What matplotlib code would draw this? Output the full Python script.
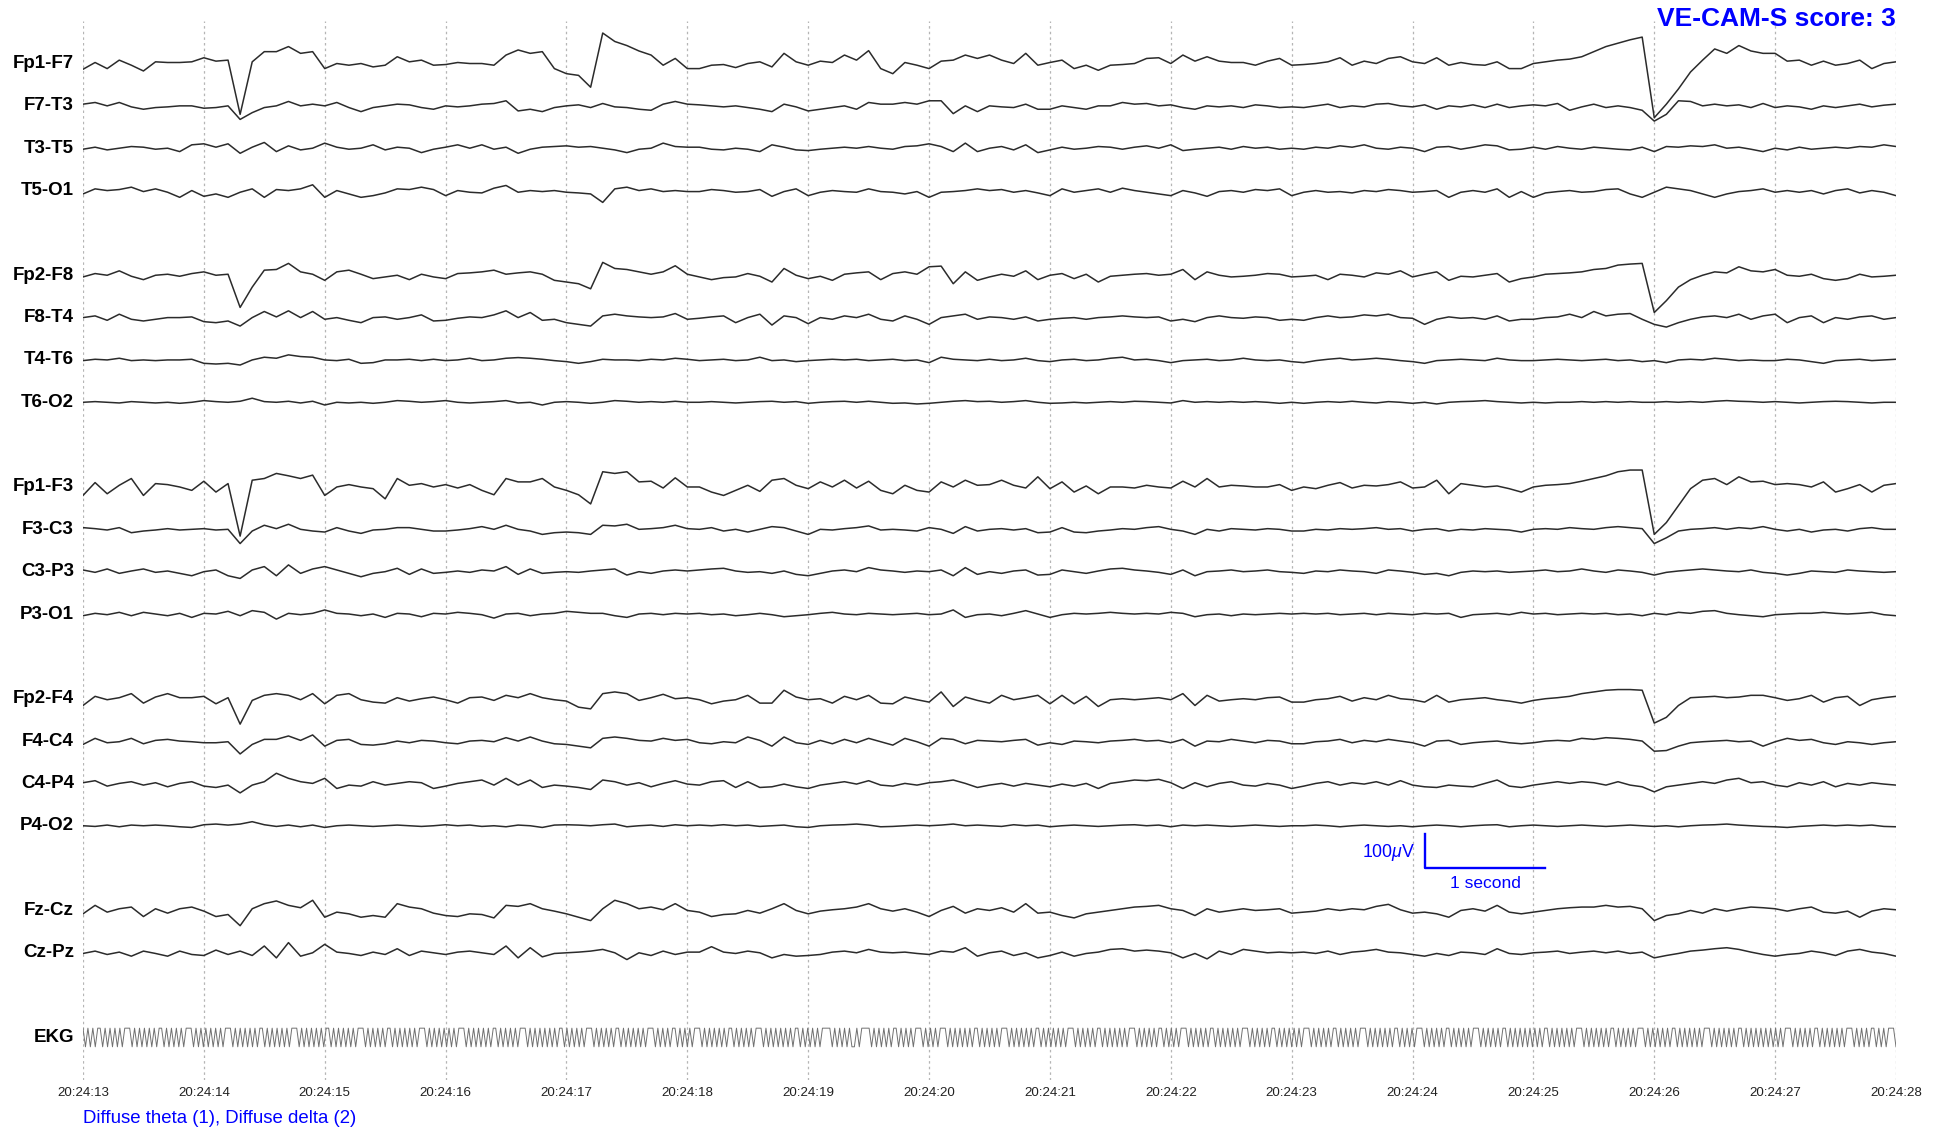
import numpy as np
import matplotlib
matplotlib.use('Agg')
import matplotlib.pyplot as plt

plt.rcParams['font.family'] = ['Liberation Sans', 'DejaVu Sans']
plt.rcParams['mathtext.fontset'] = 'custom'
plt.rcParams['mathtext.rm'] = 'Liberation Sans'
plt.rcParams['mathtext.it'] = 'Liberation Sans:italic'

# one sample every 0.1 s, values in microvolts
DT = 0.1
tick_labels = ['20:24:%02d' % s for s in range(13, 29)]

fp1_f7 = [-17, 3, -15, 10, -5, -22, 5, 3, 3, 5,
          17, 7, 10, -150, 5, 35, 35, 50, 30, 35,
          -15, 0, -5, 0, -10, -5, 20, 5, 10, -5,
          -3, 3, 0, 0, -5, 25, 40, 30, 35, -15,
          -30, -35, -70, 90, 65, 53, 37, 25, -5, 15,
          -15, -15, -5, -3, -12, 0, 5, -10, 30, 5,
          -5, 7, 3, 25, 10, 38, -15, -30, 3, -5,
          -15, 7, 10, 25, 15, 25, 10, 0, 30, -5,
          3, 10, -15, -5, -20, -5, -3, 0, 15, 17,
          0, 25, 7, 20, 7, 3, 3, -5, 7, 15,
          -5, -3, 0, 5, 17, -5, 7, 0, 15, 20,
          5, 0, 17, -5, 3, -3, -5, 5, -15, -15,
          0, 5, 10, 13, 20, 35, 50, 60, 70, 78,
          -160, -120, -75, -25, 10, 43, 30, 53, 37, 30,
          30, 7, 10, -5, 7, -5, 0, 10, -15, 0,
          5]
f7_t3 = [5, 10, 0, 10, -3, -10, -5, -3, 0, 0,
         -7, -5, 0, -40, -20, -5, 0, 13, 0, 5,
         0, 10, -5, -17, -5, 0, 5, 3, -5, -10,
         0, -3, 0, 5, 7, 15, -15, -10, -17, -5,
         0, 3, -5, 7, -3, -5, -10, -13, 5, 13,
         5, 3, 0, -3, 0, -5, -10, -17, 5, -3,
         -15, -10, -5, 0, -10, 10, 5, 5, 10, 5,
         15, 15, -23, 0, -17, 0, -3, -5, 5, -10,
         -10, 0, -5, -10, 0, 0, 10, 5, 7, 0,
         3, -5, -10, 0, -3, 0, -5, 3, 0, -5,
         -3, -5, 0, 5, -5, 0, -3, 5, 7, 0,
         -3, 3, -10, 0, -3, 3, -5, 5, -5, 0,
         3, 0, 7, -13, -3, 5, -5, 0, -5, -13,
         -45, -25, 15, 13, 0, 5, 0, 3, -5, 7,
         -5, 0, -3, -10, 0, -5, 0, 5, -3, 2,
         5]
t3_t5 = [-3, 3, -5, 0, 5, 3, -3, 0, -10, 10,
         13, 3, 13, -15, 3, 17, -10, 7, -5, 0,
         15, 3, -3, 0, 10, -5, 3, 0, -13, -3,
         3, 10, 0, 10, -3, 3, -15, -3, 3, 5,
         7, 3, 5, 0, -5, -13, -3, 0, 15, 5,
         3, 3, -3, -5, 0, -3, -10, 10, 3, -5,
         -7, -3, 0, 3, 0, 5, 0, -3, 5, 7,
         13, 5, -10, 15, -10, 0, 5, -5, 10, -13,
         -5, 3, -3, 0, 5, 3, -3, 3, 7, 0,
         10, -7, -3, 0, 3, -3, 5, 0, 3, -3,
         0, -3, 3, 0, 7, 3, 10, 0, -3, 3,
         0, -10, 3, 5, -3, 3, 10, 7, -5, -3,
         3, -3, 5, 0, -3, 3, 0, -3, -5, 3,
         -10, 5, 3, 7, 5, 10, 0, 3, -3, -10,
         0, -5, 3, -3, 0, 3, 0, 5, 3, 10,
         5]
t5_o1 = [-10, 5, 0, 3, 10, -3, 5, -5, -20, 0,
         -17, -10, -20, -5, 5, -20, 3, 0, 5, 17,
         -20, 0, -10, -20, -15, -7, 5, 3, 10, 3,
         -15, 0, -5, -7, 7, 15, -5, 0, -3, 0,
         -5, -7, -10, -35, 5, 10, 0, 5, -3, 0,
         -3, -3, 3, 0, -5, -3, 3, -17, -3, 5,
         -15, -5, 0, -3, -5, 5, -3, -5, -10, -3,
         -20, -5, -3, 0, 5, 0, 3, -5, 0, -7,
         -15, 5, -5, 0, 5, -5, 7, 0, -5, -10,
         -15, 0, -7, -17, -3, 0, -5, 3, 0, 5,
         -15, -5, 0, -5, -3, -7, 0, -3, 3, 0,
         -5, -3, 0, -20, -5, 0, -5, 5, -20, -3,
         -20, -7, -3, 0, -5, -3, 3, 5, -10, -20,
         -5, 10, 5, 0, -10, -20, -10, -3, 0, 5,
         -5, 0, -5, 0, -10, 0, 5, -7, 0, -5,
         -15]
fp2_f8 = [-5, 5, 0, 13, -3, -13, 0, 3, -3, 5,
          10, 0, 3, -95, -35, 15, 17, 35, 10, 3,
          -15, 10, 15, 3, -10, -5, 0, -13, 3, -5,
          -10, 5, 7, 10, 15, 3, 7, 10, 3, -15,
          -20, -25, -40, 38, 20, 17, 10, 3, 10, 28,
          3, -5, -13, -7, -5, 5, -3, -20, 20, 0,
          -10, -3, -15, 3, 7, 10, -13, 5, 10, 3,
          25, 27, -25, 10, -15, -5, 3, -3, 13, -13,
          0, 5, -10, 3, -20, -3, 0, 3, 5, 0,
          3, 17, -13, 10, 0, -5, -3, 0, 5, 3,
          -5, -3, 0, -13, 3, 0, -5, 7, 3, 13,
          -5, 3, 10, -15, -3, -5, 0, 5, -20, -10,
          -5, 3, 5, 7, 10, 17, 20, 30, 33, 35,
          -110, -75, -35, -13, 0, 10, 7, 25, 13, 10,
          17, 0, -3, 3, -10, -15, -10, 3, -5, -3,
          0]
f8_t4 = [0, 5, -8, 10, -5, -10, -5, 0, 0, 2,
         -12, -15, -10, -25, 0, 18, 2, 20, 0, 18,
         -5, 0, -8, -15, 0, 2, -5, 0, 8, -10,
         -8, -2, 2, 0, 8, 20, 0, 15, -8, -5,
         -15, -20, -25, 5, 10, 5, 2, 0, 2, 12,
         -5, -2, 2, 5, -15, 0, 10, -22, 5, 0,
         -18, 0, -5, 5, 0, 10, -5, -10, 5, -5,
         -20, 0, 5, 10, -5, 2, 0, -5, 2, -10,
         -5, -2, 0, -5, 0, 2, 5, 2, 0, 2,
         -10, -5, -12, 0, 5, 0, -2, 2, 0, -8,
         -5, -8, 0, 5, 0, 2, 8, 5, 10, 0,
         -2, -20, -5, 2, -2, 0, -5, 5, -10, -5,
         -5, 0, 2, 10, 0, 18, 5, 10, 12, -5,
         -20, -28, -15, -5, 2, 5, 0, 10, -5, 5,
         10, -15, 0, 5, -15, 0, -5, 2, 5, -5,
         0]
t4_t6 = [-2, 2, 0, 5, -2, 0, -2, 0, 0, 2,
         -10, -12, -10, -15, 0, 8, 5, 15, 10, 8,
         0, -2, 2, -10, -8, 0, 0, 2, -2, 2,
         -2, 0, 5, -2, 0, 5, 7, 5, 2, -2,
         -5, -10, -5, 2, 0, 0, -2, 2, 0, 5,
         2, -2, 0, 2, -2, 0, 8, -2, 0, -5,
         -2, 0, 2, 0, 2, -2, 0, 2, -2, 0,
         -8, 8, 2, 0, -2, 2, -2, 0, 5, -2,
         -5, 0, 2, -2, 0, 5, 8, 0, 2, -2,
         -8, -2, 0, 2, -2, 0, 5, 0, -2, 0,
         -5, -8, -2, 2, 5, 0, 2, 5, 2, -2,
         -5, -10, -2, 0, 2, 0, -2, 5, 0, -2,
         -2, 0, 2, 0, -2, 0, 2, -2, 0, -5,
         -2, -8, 0, 2, 0, 5, 2, -2, 0, -2,
         -2, 2, 0, -5, -10, -2, 0, 2, -2, 0,
         2]
t6_o2 = [0, 2, 0, -2, 2, 0, -2, 0, -3, 0,
         5, 2, 0, 3, 12, 2, 0, 3, -2, 3,
         -8, 0, -2, 0, -3, 0, 5, 3, 0, 2,
         5, 0, -2, 0, 2, 5, -2, 0, -8, 0,
         2, 0, -3, 0, 5, 3, 0, 2, 0, 3,
         0, 0, 2, 0, -2, 0, 2, 3, 0, 2,
         -3, 0, 2, 3, 0, 3, 0, -3, -2, -5,
         -3, 0, 3, 5, 2, 3, 0, 2, 5, 0,
         -3, -2, 0, -2, 0, 2, 0, 3, 2, 0,
         -2, 5, 0, 2, 0, 2, 0, 2, 0, -3,
         0, -3, 0, 2, 0, 3, 0, -2, 2, 0,
         -3, 0, -5, 0, 2, 3, 5, 2, 0, -2,
         0, -2, 0, 0, 2, 0, 2, 0, 2, 0,
         0, 2, 0, 2, 0, 3, 5, 3, 2, 0,
         2, 0, -2, 0, 2, 3, 2, 0, -2, 0,
         0]
fp1_f3 = [-25, 13, -20, 5, 25, -25, 10, 7, 0, -10,
          17, -15, 10, -145, 20, 25, 40, 33, 25, 35,
          -25, 0, 7, 0, -5, -35, 25, 5, 10, 0,
          7, -3, 7, -10, -23, 25, 15, 15, 25, 0,
          -10, -23, -50, 45, 40, 45, 15, 17, -3, 27,
          0, 0, -15, -25, -10, 5, -13, 20, 25, 5,
          -5, 15, 0, 20, -3, 17, -10, -20, 5, -10,
          -15, 15, 0, 20, 5, 7, 20, 5, -3, 30,
          -5, 15, -15, 3, -20, 0, 0, -3, 5, 0,
          -3, 17, 0, 25, 0, 5, 3, 0, 0, 7,
          -10, 0, -5, 5, 13, -3, 5, 3, 7, 15,
          -3, 0, 20, -20, 10, 5, 0, 3, -5, -15,
          0, 5, 7, 10, 17, 25, 33, 45, 50, 50,
          -140, -105, -55, -5, 20, 25, 7, 30, 15, 17,
          7, 10, 7, 0, 15, -15, -5, 7, -15, 5,
          10]
f3_c3 = [5, 2, -2, 5, -10, -5, -2, 2, -2, 0,
         2, -2, 0, -42, -5, 12, 2, 15, 0, -5,
         -8, 5, -5, -12, -2, 0, 5, 5, 0, -5,
         -5, -2, 2, 8, 0, 12, 0, -5, -15, -10,
         -8, -10, -15, 12, 10, 15, 0, 2, 5, 12,
         2, 0, 5, -5, 0, -8, 0, 8, 5, -5,
         -15, 0, -2, 2, 5, 10, -2, 0, -2, -5,
         5, 0, -12, 8, -5, 0, 2, -2, 2, -10,
         -8, 5, -8, -10, -5, -2, 2, 0, 5, 8,
         0, -5, -15, 0, -5, 2, 0, -2, 2, 0,
         -5, -5, 0, -2, 2, 0, 2, 5, 0, 2,
         -5, 0, 2, -5, 0, -2, 2, 0, -2, -8,
         0, 2, 0, 5, 2, 0, 5, 8, 5, 2,
         -42, -25, -5, 0, 2, 5, 0, 5, 2, 8,
         0, -5, 0, -8, -2, 0, -5, 2, 5, 0,
         0]
c3_p3 = [5, -2, 8, -5, 2, 8, -2, 2, -5, -12,
         0, 5, -12, -20, 5, 15, -12, 20, -5, 8,
         15, 5, -5, -15, -5, 0, 10, -8, 8, -5,
         -2, 2, -2, 5, 2, 15, -8, 8, -5, -2,
         0, -2, 2, 5, 8, -10, 0, -5, 2, 5,
         2, 5, 8, 10, 2, -2, 0, -5, 2, -8,
         -12, -5, 2, 5, 0, 12, 5, 2, -2, 2,
         0, 5, -12, 12, -8, 0, -5, 2, 5, -10,
         -8, 5, 0, -5, 2, 8, 10, 5, 2, -2,
         -8, 5, -12, 0, 2, 5, 0, 2, 5, 0,
         -2, -5, 2, 0, 5, 2, 0, -5, 5, 2,
         -2, -8, -5, -12, -2, 2, 0, 2, -2, 0,
         2, 5, 0, 2, 8, 2, -2, 5, 2, -2,
         -10, -2, 2, 5, 8, 5, 2, 0, 5, -2,
         -5, -10, -5, 2, 0, -2, 5, 2, 0, -2,
         0]
p3_o1 = [-5, 2, -2, 5, -5, 5, 0, -5, 2, -10,
         2, 0, 8, -5, 10, 5, -15, 2, -2, 2,
         12, 2, 0, -5, 0, -10, 2, 0, -8, 2,
         0, 5, 2, -2, -12, 0, 2, -5, 0, 2,
         8, 5, 2, 2, -5, -10, 0, 2, -2, 2,
         0, 2, -2, 0, -5, -2, 2, -2, -8, -5,
         -2, 2, 5, 0, -2, 2, 0, -2, 0, 2,
         -2, 0, 12, -10, -2, 0, -5, 2, 10, 0,
         -10, -2, 2, 0, 2, 5, 2, 0, 2, 0,
         5, 2, -8, -2, 0, -5, 0, -2, 0, 2,
         0, 2, 0, 2, -2, 0, 2, -2, 2, 0,
         -2, 2, 0, 2, -10, -2, 0, 2, -2, 5,
         0, 2, -2, 0, 2, 0, 2, -2, 0, -5,
         2, -2, 5, 2, 8, 10, 2, -2, -5, -8,
         -2, 0, 2, 2, 5, 2, 0, 2, 5, -2,
         -5]
fp2_f4 = [-20, 7, -3, 3, 15, -13, 5, 15, 3, 3,
          7, -15, 3, -75, -5, 10, 15, 10, -3, 15,
          -15, 10, 15, -3, -10, -13, 3, -7, 0, 5,
          -3, -13, 3, 5, -5, 10, 3, 15, 3, -3,
          -7, -25, -30, 15, 20, 15, -5, 3, 13, 0,
          3, -3, -15, -7, -3, 10, -13, -13, 25, 5,
          -3, 0, -13, 7, -3, 10, -13, -15, 5, -3,
          -10, 20, -23, 5, -5, -13, 10, -3, 3, 10,
          -15, 10, -15, 7, -23, -3, 0, -3, 0, 3,
          -3, 15, -20, 10, -7, -3, 0, -3, 3, 5,
          -10, -10, -3, 0, 7, -7, 3, -3, 10, 0,
          -3, -10, 10, -10, -3, 0, 3, -3, -7, -13,
          -5, 0, 3, 7, 15, 20, 25, 27, 27, 25,
          -72, -55, -20, 3, 5, 7, 3, 5, 10, 10,
          3, -5, 0, 10, -10, 3, 7, -20, -3, 3,
          7]
f4_c4 = [-10, 8, -5, -2, 8, -8, 2, 5, 0, -2,
         -5, -5, -2, -38, -10, 5, 5, 15, 2, 18,
         -15, 2, 5, -10, -12, -8, 0, -5, 2, 0,
         -5, -8, 0, 2, -2, 10, 0, 12, 0, -8,
         -10, -15, -20, 8, 12, 8, 2, 0, 8, 2,
         5, -5, -8, -2, -5, 12, 2, -15, 12, -5,
         -10, 2, -8, 5, -5, 8, -2, -12, 8, -2,
         -15, 8, 5, -8, 2, 0, -2, 2, 5, -12,
         -5, -10, 0, -2, -5, 0, 2, 5, 0, 2,
         -5, 5, -15, 0, -2, 5, 0, -5, 2, 0,
         -8, -8, -2, 0, 5, -5, 2, -2, 5, 0,
         -5, -15, 0, 2, -10, -5, -2, 0, -5, -8,
         -5, 0, 2, 0, 8, 5, 10, 8, 5, 0,
         -30, -28, -15, -5, -2, 0, 2, -2, 0, -15,
         -2, 8, 2, 5, -5, -10, -2, -5, -10, -5,
         -2]
c4_p4 = [2, 8, -8, 0, 5, -5, 2, -10, 0, 5,
         -8, -12, -5, -28, -5, 5, 30, 15, 5, 0,
         15, -15, -5, -8, 5, -5, 0, 5, 2, -15,
         -8, 0, 5, 10, -5, 15, -5, 10, -12, -5,
         -8, -12, -18, 10, 5, -5, 2, -10, 0, 8,
         -2, -5, 5, 8, -12, 5, -12, -10, -2, -10,
         -15, -5, 0, 5, -2, 8, -5, -8, 0, -5,
         2, 5, 10, 0, -12, -5, 0, -8, 0, -5,
         -10, -2, -8, 0, -15, 0, 5, 10, 8, 12,
         2, -15, 2, -10, 0, 5, -5, -8, 0, -5,
         -15, -8, 0, 5, -5, 2, -2, 5, -5, 8,
         -5, -10, -12, -5, -8, -10, 0, 10, -8, -12,
         -5, 0, 5, 0, 5, 2, -5, 5, -5, -10,
         -25, -10, -5, 0, 5, 0, 10, 15, 2, 5,
         -5, -10, 2, -5, 5, -10, 0, -5, 2, -2,
         -5]
p4_o2 = [0, -2, 2, -3, 2, 0, 2, 0, -3, -5,
         3, 5, 2, 5, 12, 3, -2, 2, -3, 2,
         -5, 0, 2, 0, -2, 0, 2, 0, -2, 0,
         3, 0, 2, -2, 0, -3, 2, 0, -5, 2,
         3, 2, 0, 3, 5, -3, 0, 2, -2, 3,
         0, 2, 0, 3, 0, 2, -2, 0, 2, -3,
         -5, 0, 2, 3, 5, 2, -3, -2, 0, 2,
         0, 2, 5, 0, 2, 0, -2, 3, 0, 2,
         -3, 0, 2, 0, -2, 0, 2, 3, 0, 2,
         -3, 2, 0, 2, 0, -2, 0, 2, 0, -2,
         0, 0, 2, 0, -3, 0, 2, 0, -2, 0,
         -3, 0, 2, 0, -3, 0, 2, 3, -3, 0,
         2, 0, -2, 0, 2, 0, -2, 0, 2, 0,
         -2, 0, -3, 0, 2, 3, 5, 2, 0, -2,
         -3, -5, -2, 0, 2, 0, 2, 0, 2, -2,
         -3]
fz_cz = [-10, 15, -5, 5, 10, -18, 5, -8, 5, 10,
         -2, -18, -12, -45, 5, 20, 28, 15, 8, 30,
         -20, -5, -10, -20, -15, -20, 20, 10, 5, -8,
         -15, -18, -10, -12, -22, 15, 12, 20, 5, -2,
         -10, -20, -30, 5, 30, 20, 5, 10, 2, 20,
         0, -5, -18, -12, -10, 0, -8, 5, 20, 0,
         -10, -2, 2, 5, 10, 20, 5, -2, 5, -5,
         -18, 0, 12, -8, 5, 0, 8, -5, 20, -8,
         -5, -15, -22, -10, -5, 0, 5, 10, 12, 15,
         5, 0, -15, 5, -5, 0, 5, 0, 2, 5,
         -8, -5, -2, 5, 0, 5, 2, 12, 18, 2,
         -8, -5, -10, -20, 0, 5, -2, 15, -5, -10,
         -5, 0, 5, 8, 10, 10, 15, 10, 12, 5,
         -30, -15, -10, 0, -8, 5, -2, 5, 10, 8,
         5, -2, 5, 10, -5, -8, -2, -20, -2, 5,
         2]
cz_pz = [-2, 5, -5, 2, -10, 5, -2, -10, 5, -5,
         -8, 8, -5, 5, -8, 20, -15, 30, -10, 0,
         25, 2, -2, -8, 2, -5, 12, -8, 5, 0,
         -5, 2, 5, 0, -5, 20, -15, 15, -12, -2,
         0, 2, 5, 10, 0, -20, 0, -8, 5, -5,
         2, 2, 18, 2, -2, 5, 0, -15, -5, -10,
         -8, -5, 2, 5, 0, 10, 2, 0, 2, -2,
         -5, 5, 2, 15, -10, 0, 5, -8, 0, -15,
         -8, 2, -10, -2, 2, 10, 12, 5, 8, 5,
         0, -15, -2, -18, 5, -5, 10, 5, 0, 2,
         0, 2, -2, 5, -5, 2, 5, 10, 2, 0,
         -5, -10, -2, -8, 2, 0, -5, 12, -2, -5,
         0, 2, 5, -2, 2, 5, 0, 5, -2, 2,
         -15, -8, -2, 5, 8, 12, 15, 10, 2, -5,
         -10, -5, -2, 5, 0, -8, 5, 10, 2, -2,
         -10]

# EKG: '^' = top of the trace, 'v' = bottom (saturated strokes), one block per second
ekg = ("^v^v^v^^v^v^v^v^v^^^v^v^v^v^v^v^^v^v^v^v^v^^^v^v^v"
       "^v^v^v^v^^^v^v^v^v^v^v^^v^v^v^v^v^v^^^v^v^v^v^v^v"
       "^^v^v^v^v^v^v^^^v^v^v^v^v^^v^v^v^v^v^v^^^v^v^v^v^"
       "v^v^v^^^v^v^v^v^v^v^^v^v^v^v^v^^^v^v^v^v^v^v^v^^v"
       "^v^v^v^v^^^v^v^v^v^v^^v^v^v^v^v^v^^^v^v^v^v^^v^v^"
       "v^v^^^v^v^v^v^v^v^^v^v^v^v^v^^^v^v^v^v^v^v^v^^v^v"
       "^v^v^v^^^^v^v^v^v^vv^v^^^^v^v^v^v^v^^v^v^v^v^^^v^v"
       "^v^v^^^v^v^v^v^v^v^^v^v^v^v^v^^^v^v^v^v^v^v^^v^v^"
       "v^v^v^v^^^v^v^v^v^v^^v^v^v^v^v^v^^^v^v^v^v^v^^v^v"
       "^v^v^^^v^v^v^v^v^^v^v^v^v^v^v^^^v^v^v^v^v^^v^v^v^"
       "v^v^v^^^v^v^v^v^v^^v^v^v^v^v^^^v^v^v^v^v^v^^v^v^v"
       "^v^^^v^v^v^v^v^^v^v^v^v^v^^^v^v^v^v^v^^v^v^v^v^v^"
       "v^v^v^^v^v^v^v^v^v^^^v^v^v^v^v^v^^v^v^v^v^v^^^v^v"
       "^v^v^v^v^^v^v^v^v^v^v^^^v^v^v^v^v^v^^v^v^v^v^v^v^"
       "v^v^v^^^v^v^v^v^v^^v^v^v^v^v^v^^^v^v^v^v^^v^v^v^^^v")

channels = [('Fp1-F7', 0, fp1_f7), ('F7-T3', 1, f7_t3), ('T3-T5', 2, t3_t5), ('T5-O1', 3, t5_o1),
            ('Fp2-F8', 5, fp2_f8), ('F8-T4', 6, f8_t4), ('T4-T6', 7, t4_t6), ('T6-O2', 8, t6_o2),
            ('Fp1-F3', 10, fp1_f3), ('F3-C3', 11, f3_c3), ('C3-P3', 12, c3_p3), ('P3-O1', 13, p3_o1),
            ('Fp2-F4', 15, fp2_f4), ('F4-C4', 16, f4_c4), ('C4-P4', 17, c4_p4), ('P4-O2', 18, p4_o2),
            ('Fz-Cz', 20, fz_cz), ('Cz-Pz', 21, cz_pz)]
EKG_SLOT = 23
UV_PER_SLOT = 125.0

fig = plt.figure(figsize=(19.46, 11.32), dpi=100)
ax = fig.add_axes([83/1946, 1-1080/1132, (1896-83)/1946, (1080-21)/1132])

for name, slot, vals in channels:
    v = np.array(vals, dtype=float)
    t = np.arange(len(v)) * DT
    ax.plot(t, -slot + v/UV_PER_SLOT, color='#2b2b2b', lw=1.1, zorder=3)
    ax.text(-0.075, -slot, name, ha='right', va='center', fontsize=13.5, fontweight='bold')

ekg_v = np.array([1.0 if c == '^' else -1.0 for c in ekg])
ekg_t = np.linspace(0, 15, len(ekg_v))
ax.plot(ekg_t, -EKG_SLOT + 0.22*ekg_v, color='#707070', lw=0.7, zorder=3)
ax.text(-0.075, -EKG_SLOT, 'EKG', ha='right', va='center', fontsize=13.5, fontweight='bold')

# dotted second lines
for s in range(16):
    ax.axvline(s, color='#b5b5b5', lw=0.9, ls=(0, (2, 2.5)), zorder=0)

# scale bar
ax.plot([11.10, 11.10, 12.10], [-18.2, -19.0, -19.0], color='blue', lw=1.7, zorder=4)
ax.text(11.02, -18.62, r'100$\mu$V', ha='right', va='center', color='blue', fontsize=12.8)
ax.text(11.6, -19.36, '1 second', ha='center', va='center', color='blue', fontsize=12.5)

ax.set_xlim(0, 15)
ax.set_ylim(-24.004, 1.004)
ax.set_xticks(range(16))
ax.set_xticklabels(tick_labels, fontsize=9.6, color='#222222')
ax.tick_params(axis='x', length=0, pad=5)
ax.set_yticks([])
for sp in ax.spines.values():
    sp.set_visible(False)

fig.text(1896/1946, 1-19/1132, 'VE-CAM-S score: 3', ha='right', va='center',
         fontsize=19, fontweight='bold', color='blue')
fig.text(83/1946, 1-1118.5/1132, 'Diffuse theta (1), Diffuse delta (2)', ha='left', va='center',
         fontsize=13.4, color='blue')

fig.savefig('out.png', dpi=100)
